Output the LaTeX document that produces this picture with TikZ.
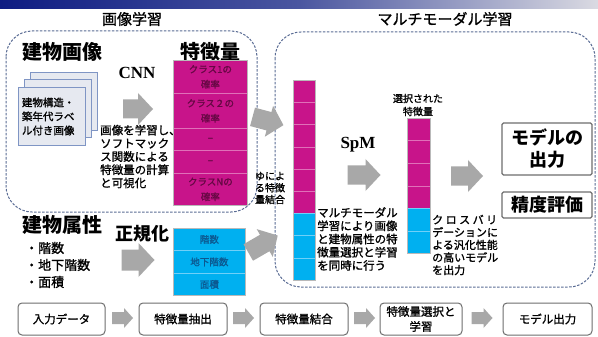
\documentclass[tikz,border=0pt]{standalone}
\usepackage{fontspec}
\setmainfont{Noto Sans CJK JP}
\newfontfamily\medf{Noto Sans CJK JP}[FakeBold=1.2]
\newfontfamily\serifb{Liberation Serif}
\newcommand\myfs[2]{\fontsize{#1}{#2}\selectfont}
\definecolor{mag}{HTML}{C8148A}
\definecolor{magline}{HTML}{E070B8}
\definecolor{magtext}{HTML}{660844}
\definecolor{cya}{HTML}{00B0F0}
\definecolor{cyaline}{HTML}{70D0F8}
\definecolor{cyatext}{HTML}{0C5890}
\definecolor{agray}{HTML}{A8A8A8}
\definecolor{dashc}{HTML}{5A6C94}
\definecolor{imgfill}{HTML}{E6E9F0}
\definecolor{imgline}{HTML}{7F95C4}
\definecolor{boxline}{HTML}{6E6E6E}
\definecolor{navyA}{HTML}{0E1C82}
\definecolor{navyB}{HTML}{4A56A0}
\definecolor{barR}{HTML}{DADAE2}
\begin{document}
\begin{tikzpicture}[x=1pt,y=-1pt,
  head/.style={font=\myfs{20}{24}\bfseries, inner sep=0},
  title/.style={font=\medf\myfs{15}{18}, inner sep=0},
  small/.style={font=\medf\myfs{11.5}{13.2}, align=left, inner sep=0},
  pics/blockarr/.style args={#1/#2/#3/#4}{code={
    \fill[agray] (-#1/2,-#3/2) -- (#1/2-#4,-#3/2) -- (#1/2-#4,-#2/2) -- (#1/2,0)
      -- (#1/2-#4,#2/2) -- (#1/2-#4,#3/2) -- (-#1/2,#3/2) -- cycle;}},
  magcell/.style={fill=mag, draw=magline, line width=0.8pt, inner sep=0, text=magtext, align=center, font=\medf\myfs{9.5}{15}, anchor=north west},
  cyacell/.style={fill=cya, draw=cyaline, line width=0.8pt, inner sep=0, text=cyatext, align=center, font=\medf\myfs{9.5}{12}, anchor=north west},
  dbox/.style={draw=dashc, line width=1pt, dash pattern=on 2.5pt off 1.5pt, rounded corners=26pt},
  imgbox/.style={fill=imgfill, draw=imgline, line width=0.9pt, anchor=north west, minimum width=67pt, minimum height=58pt, inner sep=0},
  obox/.style={draw=boxline, line width=1.2pt, rounded corners=1.5pt, font=\myfs{18}{22}\bfseries, align=center, minimum width=90pt, inner sep=0},
  flowbox/.style={draw=boxline, line width=1pt, rounded corners=4pt, font=\medf\myfs{11.5}{15}, align=center, minimum height=32pt, inner sep=0},
]
\useasboundingbox (0,0) rectangle (598,337);
\fill[white] (0,0) rectangle (598,337);
\shade[left color=navyA, right color=barR, middle color=navyB] (0,0) rectangle (598,9);

% dashed group boxes
\draw[dbox] (6,31) rectangle (257,212);
\draw[dbox] (275,32) rectangle (595,287);
\node[title] (t1) at (132,19) {画像学習};
\node[title] (t2) at (445,19) {マルチモーダル学習};

% image learning
\node[head] (h1) at (63,52) {建物画像};
\node[imgbox] (img3) at (30,72) {};
\node[imgbox] (img2) at (24,79.5) {};
\node[imgbox, font=\medf\myfs{10.5}{14}, align=left, text width=60pt] (img1) at (18,87) {建物構造・\\築年代ラベ\\ル付き画像};
\node[font=\serifb\bfseries\myfs{17}{20}, inner sep=0] (cnn) at (137,73) {CNN};
\pic (a1) at (138,109) {blockarr=30/32/19/15};
\node[small, anchor=west] (d1) at (100,156.5) {画像を学習し、\\ソフトマック\\ス関数による\\特徴量の計算\\と可視化};
\node[head] (h2) at (210,52) {特徴量};
\node[magcell, minimum width=74pt, minimum height=33pt] (m1) at (173,60) {クラス1の\\確率};
\node[magcell, minimum width=74pt, minimum height=35pt] (m2) at (173,93) {クラス２の\\確率};
\node[magcell, minimum width=74pt, minimum height=22pt] (m3) at (173,128) {–};
\node[magcell, minimum width=74pt, minimum height=23pt] (m4) at (173,150) {–};
\node[magcell, minimum width=74pt, minimum height=32pt] (m5) at (173,173) {クラスNの\\確率};
\draw[gray!55, line width=0.8pt] (m1.north west) rectangle (m5.south east);

% attributes
\node[head] (h3) at (63,225) {建物属性};
\node[font=\medf\myfs{13}{17}, align=left, inner sep=0, anchor=west] (b1) at (25,265) {・階数\\・地下階数\\・面積};
\node[font=\myfs{18}{22}\bfseries, inner sep=0] (h4) at (142,234) {正規化};
\pic (a2) at (138,260) {blockarr=33/34/21/16};
\node[cyacell, minimum width=72pt, minimum height=22pt] (c1) at (173,228) {階数};
\node[cyacell, minimum width=72pt, minimum height=23pt] (c2) at (173,250) {地下階数};
\node[cyacell, minimum width=72pt, minimum height=22pt] (c3) at (173,273) {面積};
\draw[gray!55, line width=0.8pt] (c1.north west) rectangle (c3.south east);

% concatenation
\pic[rotate=-15] (a3) at (268,121) {blockarr=32/32/19/15};
\pic[rotate=30] (a4) at (263,244) {blockarr=34/32/19/15};
\node[font=\medf\myfs{10}{11.8}, align=center, inner sep=0] (k1) at (270,188) {ゆによ\\る特徴\\量結合};
\foreach \i in {0,...,5}{
  \node[magcell, minimum width=22pt, minimum height=22.2pt] (u\i) at (293,80+22.2*\i) {};
}
\foreach \i in {0,1,2}{
  \node[cyacell, minimum width=22pt, minimum height=22.2pt] (v\i) at (293,213.2+22.2*\i) {};
}
\draw[gray!55, line width=0.8pt] (u0.north west) rectangle (v2.south east);

% SpM
\node[font=\serifb\bfseries\myfs{17}{20}, inner sep=0] (spm) at (358,145) {SpM};
\pic (a5) at (364,175) {blockarr=33/32/19/15};
\node[small, anchor=west] (d2) at (317,239) {マルチモーダル\\学習により画像\\と建物属性の特\\徴量選択と学習\\を同時に行う};

% selected
\node[font=\medf\myfs{10}{13}, align=center, inner sep=0] (s0) at (418,105) {選択された\\特徴量};
\foreach \i in {0,...,3}{
  \node[magcell, minimum width=23pt, minimum height=22.5pt] (p\i) at (407,118+22.5*\i) {};
}
\foreach \i in {0,1}{
  \node[cyacell, minimum width=23pt, minimum height=22.5pt] (q\i) at (407,208+22.5*\i) {};
}
\draw[gray!55, line width=0.8pt] (p0.north west) rectangle (q1.south east);
\pic (a6) at (467,176) {blockarr=32/32/19/15};
\node[font=\medf\myfs{11}{12.6}, align=left, inner sep=0, anchor=west] (d3) at (432,245) {\makebox[65pt][s]{ク\hfil ロ\hfil ス\hfil バ\hfil リ}\\デーションに\\よる汎化性能\\の高いモデル\\を出力};

% outputs
\node[obox, minimum height=52pt] (o1) at (547,149) {モデルの\\出力};
\node[obox, minimum height=26pt] (o2) at (547,205) {精度評価};

% bottom flow
\node[flowbox, minimum width=87pt] (f1) at (61.5,319) {入力データ};
\node[flowbox, minimum width=88pt] (f2) at (183,319) {特徴量抽出};
\node[flowbox, minimum width=88pt] (f3) at (304,319) {特徴量結合};
\node[flowbox, minimum width=82pt] (f4) at (421,319) {特徴量選択と\\学習};
\node[flowbox, minimum width=89pt] (f5) at (547.5,319) {モデル出力};
\pic (b12) at (122.5,318) {blockarr=21/20/12/9};
\pic (b23) at (243.5,318) {blockarr=21/20/12/9};
\pic (b34) at (364.5,318) {blockarr=21/20/12/9};
\pic (b45) at (482,318) {blockarr=21/20/12/9};
\end{tikzpicture}
\end{document}
